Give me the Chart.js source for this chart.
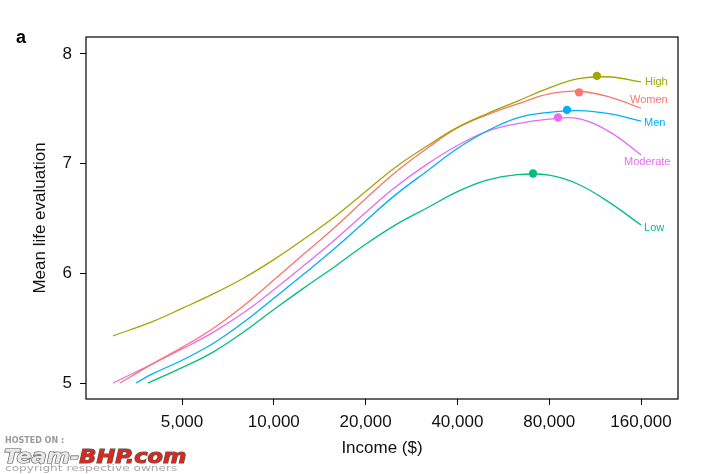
<!DOCTYPE html>
<html>
<head>
<meta charset="utf-8">
<script src="https://cdn.jsdelivr.net/npm/chart.js@4.4.1/dist/chart.umd.min.js"></script>
<style>
  html, body { margin: 0; padding: 0; background: #fff; }
  #wrap { width: 718px; height: 474px; position: relative; }
</style>
</head>
<body>
<div id="wrap"><canvas id="chart" width="718" height="474"></canvas></div>
<script>
// income grid (log x axis), shared by all curves
var incomes = [4000, 5000, 6300, 8000, 10000, 12600, 16000, 20000, 25000, 32000,
  40000, 50000, 63000, 80000, 100000, 127000, 160000];

var high = [5.56, 5.68, 5.81, 5.96, 6.125, 6.315, 6.525, 6.745, 6.965, 7.165,
  7.33, 7.455, 7.57, 7.69, 7.775, 7.79, 7.745];
var women = [5.175, 5.325, 5.495, 5.71, 5.94, 6.18, 6.43, 6.68, 6.92, 7.145,
  7.325, 7.445, 7.545, 7.635, 7.66, 7.605, 7.505];
var men = [5.083, 5.208, 5.358, 5.558, 5.773, 5.998, 6.238, 6.478, 6.713, 6.938,
  7.138, 7.298, 7.418, 7.468, 7.483, 7.453, 7.388];
var moderate = [5.175, 5.31, 5.46, 5.645, 5.85, 6.075, 6.315, 6.555, 6.785, 7.00,
  7.165, 7.295, 7.365, 7.405, 7.41, 7.285, 7.08];
var low = [null, 5.14, 5.28, 5.47, 5.67, 5.87, 6.07, 6.265, 6.44, 6.60,
  6.745, 6.85, 6.90, 6.895, 6.81, 6.64, 6.44];

var seriesNames = ['High', 'Women', 'Men', 'Moderate', 'Low'];
// where each curve begins on the left
var startIncome = [2970, 3130, 3530, 2970, 3870];
var startValue = [5.43, 5.00, 5.00, 5.00, 5.00];
// peak markers
var peakIncome = [114700, 100200, 91500, 85500, 70800];
var peakValue = [7.80, 7.65, 7.49, 7.42, 6.91];

var xTicks = [5000, 10000, 20000, 40000, 80000, 160000];
var yTicks = [5, 6, 7, 8];

// styling
var colors = ['#A3A500', '#F8766D', '#00B0F6', '#E76BF3', '#00BF7D'];
var labelOffsets = [[4, 0], [-11, -8], [3, 2], [-17, 7], [3, 3]];
var FONT = '"Liberation Sans", Arial, Helvetica, sans-serif';

var values = [high, women, men, moderate, low];

function toPoints(i) {
  var pts = [{x: startIncome[i], y: startValue[i]}];
  values[i].forEach(function(v, k) {
    if (v !== null && incomes[k] > startIncome[i]) pts.push({x: incomes[k], y: v});
  });
  return pts;
}

var datasets = seriesNames.map(function(name, i) {
  return {
    label: name,
    data: toPoints(i),
    borderColor: colors[i],
    borderWidth: 1.3,
    pointRadius: 0,
    tension: 0.4,
    fill: false
  };
});
peakIncome.forEach(function(inc, i) {
  datasets.push({
    type: 'scatter',
    label: seriesNames[i] + ' peak',
    data: [{x: inc, y: peakValue[i]}],
    backgroundColor: colors[i],
    borderColor: colors[i],
    pointRadius: 4.2,
    borderWidth: 0
  });
});

// box round the plot, curve labels, panel letter, watermark
var decor = {
  id: 'decor',
  afterDatasetsDraw: function(chart) {
    var ctx = chart.ctx, a = chart.chartArea;
    ctx.save();
    ctx.strokeStyle = '#000';
    ctx.lineWidth = 1.2;
    ctx.strokeRect(a.left, a.top, a.right - a.left, a.bottom - a.top);

    ctx.font = '11px ' + FONT;
    ctx.textBaseline = 'middle';
    ctx.textAlign = 'left';
    seriesNames.forEach(function(name, i) {
      var meta = chart.getDatasetMeta(i);
      var last = meta.data[meta.data.length - 1];
      ctx.fillStyle = colors[i];
      ctx.fillText(name, last.x + labelOffsets[i][0], last.y + labelOffsets[i][1]);
    });

    ctx.fillStyle = '#000';
    ctx.font = 'bold 18px ' + FONT;
    ctx.textBaseline = 'alphabetic';
    ctx.fillText('a', 16, 43);

    // hosting watermark
    ctx.font = 'bold 8px "DejaVu Sans", sans-serif';
    ctx.fillStyle = '#9a9a9a';
    ctx.fillText('HOSTED ON :', 5, 443);
    ctx.save();
    ctx.translate(4, 463);
    ctx.scale(1.12, 1);
    ctx.font = 'bold italic 20px "DejaVu Sans", sans-serif';
    ctx.lineWidth = 1.2;
    ctx.strokeStyle = '#555';
    ctx.fillStyle = '#e8e8e8';
    ctx.strokeText('Team-', 0, 0);
    ctx.fillText('Team-', 0, 0);
    var w = ctx.measureText('Team-').width;
    ctx.fillStyle = '#d42a1f';
    ctx.strokeText('BHP.com', w, 0);
    ctx.fillText('BHP.com', w, 0);
    ctx.restore();
    ctx.save();
    ctx.translate(5, 471);
    ctx.scale(1.35, 1);
    ctx.font = '9px "DejaVu Sans", sans-serif';
    ctx.fillStyle = '#a8a8a8';
    ctx.fillText('copyright respective owners', 0, 0);
    ctx.restore();
    ctx.restore();
  }
};

new Chart(document.getElementById('chart'), {
  type: 'line',
  data: {datasets: datasets},
  plugins: [decor],
  options: {
    responsive: false,
    animation: false,
    layout: {padding: {left: 0, right: 40, top: 37, bottom: 0}},
    plugins: {legend: {display: false}, tooltip: {enabled: false}},
    scales: {
      x: {
        type: 'logarithmic',
        min: 2422,
        max: 211550,
        border: {display: false},
        grid: {drawOnChartArea: false, color: '#000', tickLength: 6, tickColor: '#000'},
        afterBuildTicks: function(s) { s.ticks = xTicks.map(function(v) { return {value: v}; }); },
        afterFit: function(s) { s.height = 75; },
        ticks: {
          color: '#111',
          padding: 7,
          maxRotation: 0,
          autoSkip: false,
          font: {family: FONT, size: 17},
          callback: function(v) { return Number(v).toLocaleString('en-US'); }
        },
        title: {
          display: true,
          text: 'Income ($)',
          color: '#111',
          font: {family: FONT, size: 17},
          padding: {top: 0, bottom: 15}
        }
      },
      y: {
        min: 4.8545,
        max: 8.1545,
        border: {display: false},
        grid: {drawOnChartArea: false, color: '#000', tickLength: 6, tickColor: '#000'},
        afterBuildTicks: function(s) { s.ticks = yTicks.map(function(v) { return {value: v}; }); },
        afterFit: function(s) { s.width = 86; },
        ticks: {
          color: '#111',
          padding: 8,
          font: {family: FONT, size: 17},
          callback: function(v) { return String(v); }
        },
        title: {
          display: true,
          text: 'Mean life evaluation',
          color: '#111',
          font: {family: FONT, size: 17},
          padding: {top: 30, bottom: 0}
        }
      }
    }
  }
});
</script>
</body>
</html>
